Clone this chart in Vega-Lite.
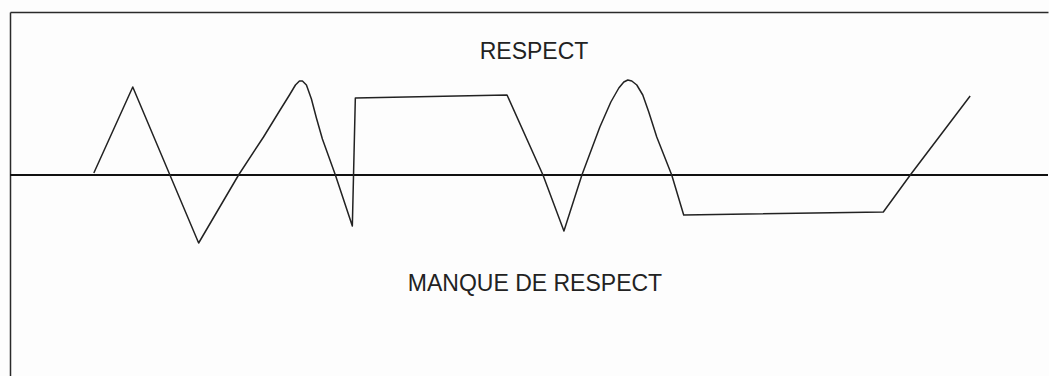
{
  "$schema": "https://vega.github.io/schema/vega-lite/v6.json",
  "width": 1049,
  "height": 376,
  "autosize": {"type": "fit", "contains": "padding"},
  "padding": {"left": 9, "top": 12, "right": 0, "bottom": 0},
  "background": "#fdfdfd",
  "config": {"view": {"stroke": null}},
  "datasets": {
    "curve": [
      {"t": 84, "level": 2},
      {"t": 123, "level": 88},
      {"t": 189, "level": -68},
      {"t": 229, "level": 0},
      {"t": 254, "level": 38},
      {"t": 270, "level": 64},
      {"t": 280, "level": 80},
      {"t": 286, "level": 90},
      {"t": 290, "level": 94},
      {"t": 293, "level": 94},
      {"t": 297, "level": 90},
      {"t": 302, "level": 76},
      {"t": 307, "level": 57},
      {"t": 313, "level": 36},
      {"t": 326, "level": 0},
      {"t": 343, "level": -51},
      {"t": 346, "level": 77},
      {"t": 498, "level": 80},
      {"t": 534, "level": 0},
      {"t": 555, "level": -56},
      {"t": 573, "level": 0},
      {"t": 591, "level": 48},
      {"t": 602, "level": 73},
      {"t": 610, "level": 87},
      {"t": 615, "level": 93},
      {"t": 619, "level": 95},
      {"t": 623, "level": 94},
      {"t": 628, "level": 90},
      {"t": 634, "level": 80},
      {"t": 640, "level": 63},
      {"t": 648, "level": 38},
      {"t": 663, "level": 0},
      {"t": 675, "level": -40},
      {"t": 875, "level": -37},
      {"t": 902, "level": 0},
      {"t": 962, "level": 79}
    ],
    "labels": [
      {"t": 525, "level": 123, "label": "RESPECT"},
      {"t": 526, "level": -109, "label": "MANQUE DE RESPECT"}
    ],
    "baseline": [
      {"level": 0}
    ]
  },
  "encoding": {
    "x": {
      "field": "t", "type": "quantitative",
      "scale": {"domain": [0, 1040], "nice": false, "zero": false},
      "axis": {"orient": "top", "title": null, "labels": false, "ticks": false, "grid": false, "domain": true, "domainColor": "#2a2a2a", "domainWidth": 1.5}
    },
    "y": {
      "field": "level", "type": "quantitative",
      "scale": {"domain": [-201, 163], "nice": false, "zero": false},
      "axis": {"orient": "left", "title": null, "labels": false, "ticks": false, "grid": false, "domain": true, "domainColor": "#2a2a2a", "domainWidth": 1.5}
    }
  },
  "layer": [
    {
      "data": {"name": "baseline"},
      "mark": {"type": "rule", "color": "#111111", "strokeWidth": 2},
      "encoding": {"x": null}
    },
    {
      "data": {"name": "curve"},
      "mark": {"type": "line", "color": "#222222", "strokeWidth": 1.5, "interpolate": "linear", "strokeJoin": "round"}
    },
    {
      "data": {"name": "labels"},
      "mark": {"type": "text", "font": "Liberation Sans", "fontSize": 23, "color": "#222222", "baseline": "middle", "align": "center"},
      "encoding": {"text": {"field": "label", "type": "nominal"}}
    }
  ]
}
